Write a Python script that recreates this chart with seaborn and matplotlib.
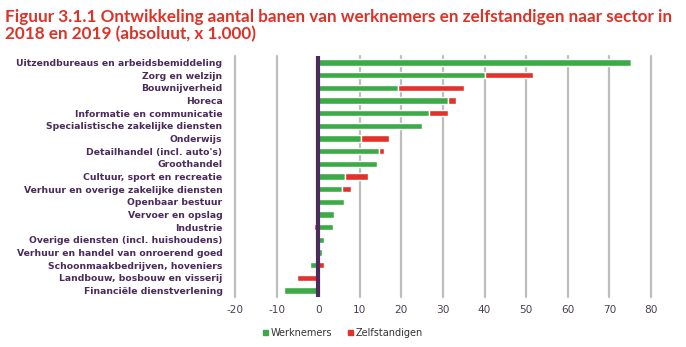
import matplotlib
matplotlib.use("Agg")
import matplotlib.pyplot as plt
import seaborn as sns
import pandas as pd
from matplotlib.patches import Patch

sectors = [
    "Uitzendbureaus en arbeidsbemiddeling",
    "Zorg en welzijn",
    "Bouwnijverheid",
    "Horeca",
    "Informatie en communicatie",
    "Specialistische zakelijke diensten",
    "Onderwijs",
    "Detailhandel (incl. auto's)",
    "Groothandel",
    "Cultuur, sport en recreatie",
    "Verhuur en overige zakelijke diensten",
    "Openbaar bestuur",
    "Vervoer en opslag",
    "Industrie",
    "Overige diensten (incl. huishoudens)",
    "Verhuur en handel van onroerend goed",
    "Schoonmaakbedrijven, hoveniers",
    "Landbouw, bosbouw en visserij",
    "Financiële dienstverlening",
]
werknemers = [75.2, 40.2, 19.2, 31.2, 26.6, 24.9, 10.2, 14.6, 14.2, 6.5,
              5.8, 6.1, 3.7, 3.5, 1.4, 0.9, -1.9, 0.0, -8.2]
zelfstandigen = [0.3, 11.4, 15.8, 2.0, 4.6, 0.0, 6.7, 1.3, 0.0, 5.5,
                 2.1, 0.0, 0.0, -1.0, 0.0, 0.0, 1.4, -5.2, 0.0]
xticks = [-20, -10, 0, 10, 20, 30, 40, 50, 60, 70, 80]

GREEN = "#3DAA48"
RED = "#E3322B"
PURPLE = "#4B2A5C"
TITLE_RED = "#DC3329"

df = pd.DataFrame({"sector": sectors, "werknemers": werknemers,
                   "zelfstandigen": zelfstandigen})

sns.set_theme(style="white")
plt.rcParams["font.family"] = ["DejaVu Sans"]

fig = plt.figure(figsize=(6.86, 3.47), dpi=100)
ax = fig.add_axes([235 / 686, 1 - 297 / 347, (651 - 235) / 686, (297 - 56) / 347])

sns.barplot(data=df, y="sector", x="werknemers", orient="h", color=GREEN,
            saturation=1, width=0.5, ax=ax, zorder=3)
n_green = len(ax.patches)
sns.barplot(data=df, y="sector", x="zelfstandigen", orient="h", color=RED,
            saturation=1, width=0.5, ax=ax, zorder=3)
# stack the red bars onto the green ones (same sign stacks, else from zero)
for i, p in enumerate(ax.patches[n_green:]):
    g = werknemers[i]
    z = zelfstandigen[i]
    if (g > 0 and z > 0) or (g < 0 and z < 0):
        p.set_x(g)

ax.set_xlim(-20, 80)
ax.set_ylim(len(sectors) - 0.5, -0.5)
ax.set_xticks(xticks)
ax.set_xticklabels([str(t) for t in xticks])
ax.set_xlabel("")
ax.set_ylabel("")
for t in xticks:
    if t != 0:
        ax.axvline(t, color="#BDBDBD", lw=1.6, zorder=1, clip_on=False)
ax.axvline(0, color=PURPLE, lw=3, zorder=4)
for s in ax.spines.values():
    s.set_visible(False)
ax.tick_params(axis="y", length=0, pad=9, labelsize=6.7, labelcolor=PURPLE)
ax.tick_params(axis="x", length=0, pad=6, labelsize=7.6, labelcolor="#4A3F55")
for lab in ax.get_yticklabels():
    lab.set_fontweight("bold")

fig.text(5 / 686, 1 - 9 / 347,
         "Figuur 3.1.1 Ontwikkeling aantal banen van werknemers en zelfstandigen naar sector in\n2018 en 2019 (absoluut, x 1.000)",
         ha="left", va="top", color=TITLE_RED, fontsize=12.3, fontweight="bold",
         family=["Lato", "DejaVu Sans"], linespacing=1.05)

handles = [Patch(color=GREEN, label="Werknemers"), Patch(color=RED, label="Zelfstandigen")]
fig.legend(handles=handles, loc="center", bbox_to_anchor=(343 / 686, 1 - 333 / 347),
           ncol=2, frameon=False, fontsize=7.0, handlelength=0.55, handleheight=0.55,
           handletextpad=0.25, columnspacing=1.6, labelcolor="#333333")

fig.savefig("out.png", dpi=100, facecolor="white")
